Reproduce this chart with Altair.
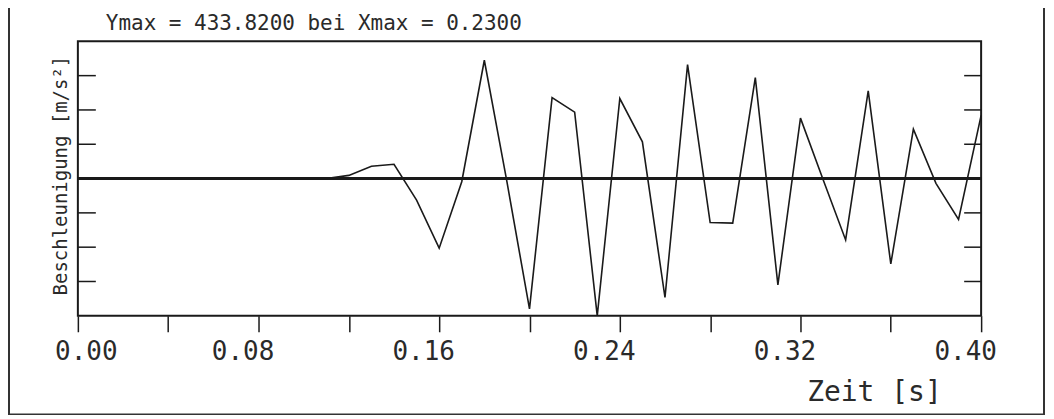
import altair as alt
import pandas as pd

# --- data ---
zeit = [0.00, 0.01, 0.02, 0.03, 0.04, 0.05, 0.06, 0.07, 0.08, 0.09,
        0.10, 0.11, 0.12, 0.13, 0.14, 0.15, 0.16, 0.17, 0.18, 0.19,
        0.20, 0.21, 0.22, 0.23, 0.24, 0.25, 0.26, 0.27, 0.28, 0.29,
        0.30, 0.31, 0.32, 0.33, 0.34, 0.35, 0.36, 0.37, 0.38, 0.39, 0.40]
beschl = [0, 0, 0, 0, 0, 0, 0, 0, 0, 0,
          0, 0, 10, 39, 45, -68, -220, -10, 374, -10,
          -412, 256, 210, -433.82, 253, 116, -376, 360, -139, -141,
          319, -336, 191, -3, -194, 277, -270, 156, -15, -129, 200]
ymax = 433.82
xmax = 0.23
y_ticks = [-325.365, -216.91, -108.455, 108.455, 216.91, 325.365]
x_ticks = [0.00, 0.04, 0.08, 0.12, 0.16, 0.20, 0.24, 0.28, 0.32, 0.36, 0.40]

MONO = "DejaVu Sans Mono"
INK = "#1a1a1a"
TXT = "#2a2a2a"

df = pd.DataFrame({"t": zeit, "a": beschl})
df_ticks = pd.DataFrame({"v": y_ticks})
df_zero = pd.DataFrame({"v": [0.0]})
one = pd.DataFrame({"k": [0]})

xscale = alt.Scale(domain=[0, 0.4], nice=False, zero=False)
yscale = alt.Scale(domain=[-ymax, ymax], nice=False)

line = alt.Chart(df).mark_line(color=INK, strokeWidth=1.6).encode(
    x=alt.X("t:Q", scale=xscale, axis=alt.Axis(
        values=x_ticks,
        labelExpr="round(datum.value*100) % 8 == 0 ? format(datum.value, '.2f') : ''",
        domain=False, grid=False,
        tickSize=16, tickColor=INK, tickWidth=1.5,
        labelFont=MONO, labelFontSize=26, labelColor=TXT,
        labelBaseline="alphabetic", labelPadding=28, labelFlush=False,
        labelOffset={"condition": {"test": "datum.value < 0.001", "value": 8}, "value": -16},
        title="Zeit [s]", titleFont=MONO, titleFontSize=28, titleFontWeight="normal",
        titleColor=TXT, titleAlign="right", titleBaseline="alphabetic",
        titleX=865, titleY=85)),
    y=alt.Y("a:Q", scale=yscale, axis=alt.Axis(
        labels=False, ticks=False, domain=False, grid=False,
        title="Beschleunigung [m/s²]", titleFont=MONO, titleFontSize=19,
        titleFontWeight="normal", titleColor=TXT, titleAngle=270,
        titleAlign="center", titleBaseline="alphabetic",
        titleX=-11, titleY=134)),
)

zero = alt.Chart(df_zero).mark_rule(color=INK, strokeWidth=3).encode(
    y=alt.Y("v:Q", scale=yscale))

ticks_left = alt.Chart(df_ticks).mark_rule(color=INK, strokeWidth=1.5).encode(
    y=alt.Y("v:Q", scale=yscale), x=alt.value(0), x2=alt.value(18))
ticks_right = alt.Chart(df_ticks).mark_rule(color=INK, strokeWidth=1.5).encode(
    y=alt.Y("v:Q", scale=yscale), x=alt.value(888), x2=alt.value(905))

title_txt = "Ymax = {:.4f} bei Xmax = {:.4f}".format(ymax, xmax)
title = alt.Chart(one).mark_text(
    font=MONO, fontSize=21, color=TXT, align="left", baseline="alphabetic"
).encode(x=alt.value(28), y=alt.value(-11), text=alt.value(title_txt))

border = alt.Chart(one).mark_rect(
    fill=None, stroke="#333333", strokeWidth=2
).encode(x=alt.value(-69), x2=alt.value(968), y=alt.value(-36), y2=alt.value(374))

chart = alt.layer(border, zero, ticks_left, ticks_right, line, title).properties(
    width=905, height=275,
    autosize=alt.AutoSizeParams(type="none"),
    padding={"left": 70, "top": 33, "right": 65, "bottom": 99},
    background="white",
).configure_view(stroke=INK, strokeWidth=2)

chart.save("out.html", embed_options={"renderer": "svg", "actions": False})
